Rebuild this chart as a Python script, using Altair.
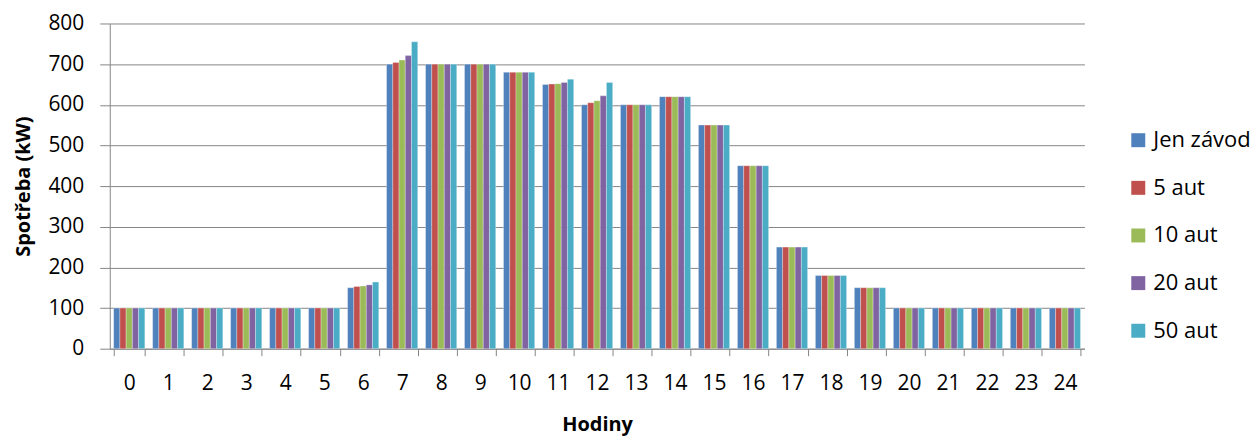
import altair as alt
import pandas as pd

hours = list(range(25))
series = ["Jen závod", "5 aut", "10 aut", "20 aut", "50 aut"]
colors = ["#4F81BD", "#C0504D", "#9BBB59", "#8064A2", "#4BACC6"]

jen_zavod = [100, 100, 100, 100, 100, 100, 150, 700, 700, 700, 680, 650, 600,
             600, 620, 550, 450, 250, 180, 150, 100, 100, 100, 100, 100]
aut_5 = [100, 100, 100, 100, 100, 100, 153, 704, 700, 700, 680, 651, 605,
         600, 620, 550, 450, 250, 180, 150, 100, 100, 100, 100, 100]
aut_10 = [100, 100, 100, 100, 100, 100, 154, 710, 700, 700, 680, 652, 610,
          600, 620, 550, 450, 250, 180, 150, 100, 100, 100, 100, 100]
aut_20 = [100, 100, 100, 100, 100, 100, 157, 721, 700, 700, 680, 655, 622,
          600, 620, 550, 450, 250, 180, 150, 100, 100, 100, 100, 100]
aut_50 = [100, 100, 100, 100, 100, 100, 164, 755, 700, 700, 680, 663, 655,
          600, 620, 550, 450, 250, 180, 150, 100, 100, 100, 100, 100]

rows = []
for s, vals in zip(series, [jen_zavod, aut_5, aut_10, aut_20, aut_50]):
    for h, v in zip(hours, vals):
        rows.append({"Hodiny": str(h), "Serie": s, "Spotreba": v})
df = pd.DataFrame(rows)

FONT = "Open Sans"
GRID = "#868686"

chart = alt.Chart(df).mark_bar(stroke="white", strokeWidth=0.5, strokeOpacity=0.6).encode(
    x=alt.X("Hodiny:N", sort=[str(h) for h in hours],
            scale=alt.Scale(paddingInner=0.2, paddingOuter=0.1),
            axis=alt.Axis(title="Hodiny", labelAngle=0, tickBand="extent",
                          tickSize=7, tickColor=GRID, domainColor=GRID,
                          labelPadding=17, titlePadding=21, grid=False)),
    xOffset=alt.XOffset("Serie:N", sort=series,
                        scale=alt.Scale(paddingInner=0, paddingOuter=0)),
    y=alt.Y("Spotreba:Q", scale=alt.Scale(domain=[0, 800]),
            axis=alt.Axis(title="Spotřeba (kW)", values=list(range(0, 801, 100)),
                          tickSize=10, tickColor=GRID, domainColor=GRID,
                          gridColor=GRID, labelPadding=16, titlePadding=14)),
    color=alt.Color("Serie:N", sort=series,
                    scale=alt.Scale(domain=series, range=colors),
                    legend=alt.Legend(title=None, orient="none", legendX=1020, legendY=106,
                                      symbolType="square", symbolSize=196,
                                      symbolStrokeWidth=0, labelOffset=4,
                                      rowPadding=25.75, labelFontSize=22,
                                      labelFont=FONT, labelColor="black")),
).properties(
    width=977, height=326,
    autosize=alt.AutoSizeParams(type="none"),
    padding={"left": 102, "top": 15, "right": 168, "bottom": 90},
).configure_axis(
    labelFont=FONT, titleFont=FONT, labelFontSize=21, titleFontSize=20,
    labelColor="black", titleColor="black", titleFontWeight="bold",
).configure_view(stroke=None)

chart.save("out.html", embed_options={"renderer": "svg", "actions": False})
